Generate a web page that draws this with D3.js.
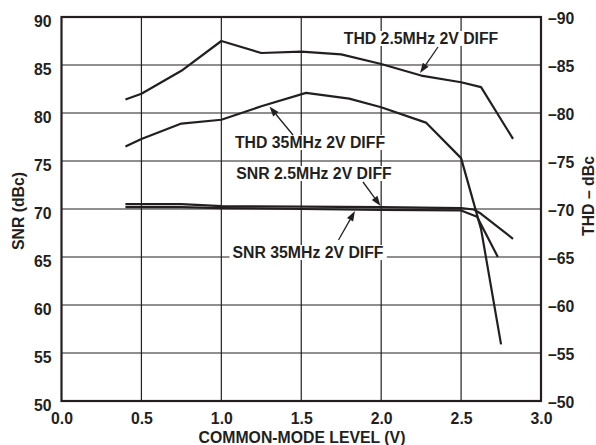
<!DOCTYPE html>
<html><head><meta charset="utf-8">
<script src="https://cdn.jsdelivr.net/npm/d3@7/dist/d3.min.js"></script>
<style>
body{margin:0;background:#fff;}
text{font-family:"Liberation Sans",Arial,Helvetica,sans-serif;font-weight:bold;fill:#231f20;}
</style></head>
<body><svg id="c" width="596" height="445"></svg>
<script>
// ---- data ----
const xTicks = [0.0,0.5,1.0,1.5,2.0,2.5,3.0];
const xTickLabels = ["0.0","0.5","1.0","1.5","2.0","2.5","3.0"];
const snrTicks = [50,55,60,65,70,75,80,85,90];
const thdTicks = [-50,-55,-60,-65,-70,-75,-80,-85,-90];
const thdTickLabels = ["–50","–55","–60","–65","–70","–75","–80","–85","–90"];

const xThd25 = [0.4,0.5,0.75,1.0,1.25,1.5,1.75,2.0,2.25,2.5,2.625,2.825];
const thd25  = [-81.4,-82.0,-84.4,-87.5,-86.25,-86.4,-86.1,-85.1,-83.9,-83.2,-82.7,-77.3];
const xThd35 = [0.4,0.5,0.75,1.0,1.25,1.53,1.8,2.0,2.28,2.5,2.625,2.75];
const thd35  = [-76.5,-77.3,-78.9,-79.3,-80.7,-82.1,-81.5,-80.6,-79.0,-75.3,-67.9,-55.9];
const xSnr25 = [0.4,0.75,1.0,1.5,2.0,2.5,2.58,2.625,2.825];
const snr25  = [70.5,70.5,70.3,70.25,70.2,70.1,69.95,69.5,66.9];
const xSnr35 = [0.4,0.75,1.0,1.5,2.0,2.5,2.6,2.73];
const snr35  = [70.2,70.2,70.1,70.0,69.9,69.85,69.2,65.0];

const labels = ["THD 2.5MHz 2V DIFF","THD 35MHz 2V DIFF","SNR 2.5MHz 2V DIFF","SNR 35MHz 2V DIFF"];

// ---- chart ----
const svg = d3.select("#c");
const ink = "#231f20";
const fs = "15.8px";
const x = d3.scaleLinear().domain([0,3]).range([61.5,541]);
const yL = d3.scaleLinear().domain([50,90]).range([401,17]);
const yR = d3.scaleLinear().domain([-50,-90]).range([401,17]);

// gridlines
const g = svg.append("g");
g.selectAll("line.v").data(xTicks.slice(1,-1)).enter().append("line")
  .attr("x1",d=>x(d)).attr("x2",d=>x(d)).attr("y1",yL(90)).attr("y2",yL(50))
  .attr("stroke",ink).attr("stroke-width",1.2);
g.selectAll("line.h").data(snrTicks.slice(1,-1)).enter().append("line")
  .attr("x1",x(0)).attr("x2",x(3)).attr("y1",d=>yL(d)).attr("y2",d=>yL(d))
  .attr("stroke",ink).attr("stroke-width",1.2);

// curves
const line = (xs, ys, sc) => d3.line().x((d,i)=>x(xs[i])).y(d=>sc(d))(ys);
const curves = [[xThd25,thd25,yR],[xThd35,thd35,yR],[xSnr25,snr25,yL],[xSnr35,snr35,yL]];
svg.append("g").selectAll("path").data(curves).enter().append("path")
  .attr("d",c=>line(c[0],c[1],c[2]))
  .attr("fill","none").attr("stroke",ink).attr("stroke-width",2.2)
  .attr("stroke-linejoin","round");

// frame
svg.append("rect").attr("x",x(0)).attr("y",yL(90)).attr("width",x(3)-x(0)).attr("height",yL(50)-yL(90))
  .attr("fill","none").attr("stroke",ink).attr("stroke-width",2.2);

// axes (labels only)
const axB = d3.axisBottom(x).tickValues(xTicks).tickFormat((d,i)=>xTickLabels[i]).tickSize(0).tickPadding(12);
const gb = svg.append("g").attr("transform",`translate(0,${yL(50)})`).call(axB);
const axL = d3.axisLeft(yL).tickValues(snrTicks).tickSize(0).tickPadding(10);
const gl = svg.append("g").attr("transform",`translate(${x(0)},0)`).call(axL);
const axR = d3.axisRight(yR).tickValues(thdTicks).tickFormat((d,i)=>thdTickLabels[i]).tickSize(0).tickPadding(7);
const gr = svg.append("g").attr("transform",`translate(${x(3)},0)`).call(axR);
[gb,gl,gr].forEach(a=>{a.select(".domain").remove();
  a.selectAll("text").style("font-size",fs).attr("fill",ink);});
gl.selectAll("text").attr("dy","0.6em");
gr.selectAll("text").attr("dy","0.42em");

// axis titles
svg.append("text").attr("x",302).attr("y",443).attr("text-anchor","middle").style("font-size",fs)
  .text("COMMON-MODE LEVEL (V)");
svg.append("text").attr("transform","translate(24,211) rotate(-90)").attr("text-anchor","middle").style("font-size",fs)
  .text("SNR (dBc)");
svg.append("text").attr("transform","translate(594,196) rotate(-90)").attr("text-anchor","middle").style("font-size",fs)
  .text("THD – dBc");

// annotation labels with white backgrounds and arrows
const ann = [
  {t:labels[0], cx:421, by:44, ax1:438, ay1:47, ax2:420, ay2:73},
  {t:labels[1], cx:310, by:148, ax1:293, ay1:135, ax2:269.5, ay2:106.5},
  {t:labels[2], cx:314, by:179, ax1:363, ay1:182, ax2:380.5, ay2:206},
  {t:labels[3], cx:308, by:258, ax1:338.5, ay1:240, ax2:355, ay2:211}
];
const ga = svg.append("g");
ann.forEach(a=>{
  const t = ga.append("text").attr("x",a.cx).attr("y",a.by).attr("text-anchor","middle")
    .style("font-size",fs).text(a.t);
  const bb = t.node().getBBox();
  ga.insert("rect","text").attr("x",bb.x-3).attr("y",bb.y+1).attr("width",bb.width+6).attr("height",bb.height-2).attr("fill","#fff");
  // arrow
  const dx=a.ax2-a.ax1, dy=a.ay2-a.ay1, L=Math.hypot(dx,dy), ux=dx/L, uy=dy/L;
  const hl=10, hw=3.5;
  const bx=a.ax2-ux*hl, by=a.ay2-uy*hl;
  ga.append("line").attr("x1",a.ax1).attr("y1",a.ay1).attr("x2",bx).attr("y2",by).attr("stroke",ink).attr("stroke-width",1.3);
  ga.append("path").attr("d",`M${a.ax2},${a.ay2}L${bx-uy*hw},${by+ux*hw}L${bx+uy*hw},${by-ux*hw}Z`).attr("fill",ink);
});
</script></body></html>
